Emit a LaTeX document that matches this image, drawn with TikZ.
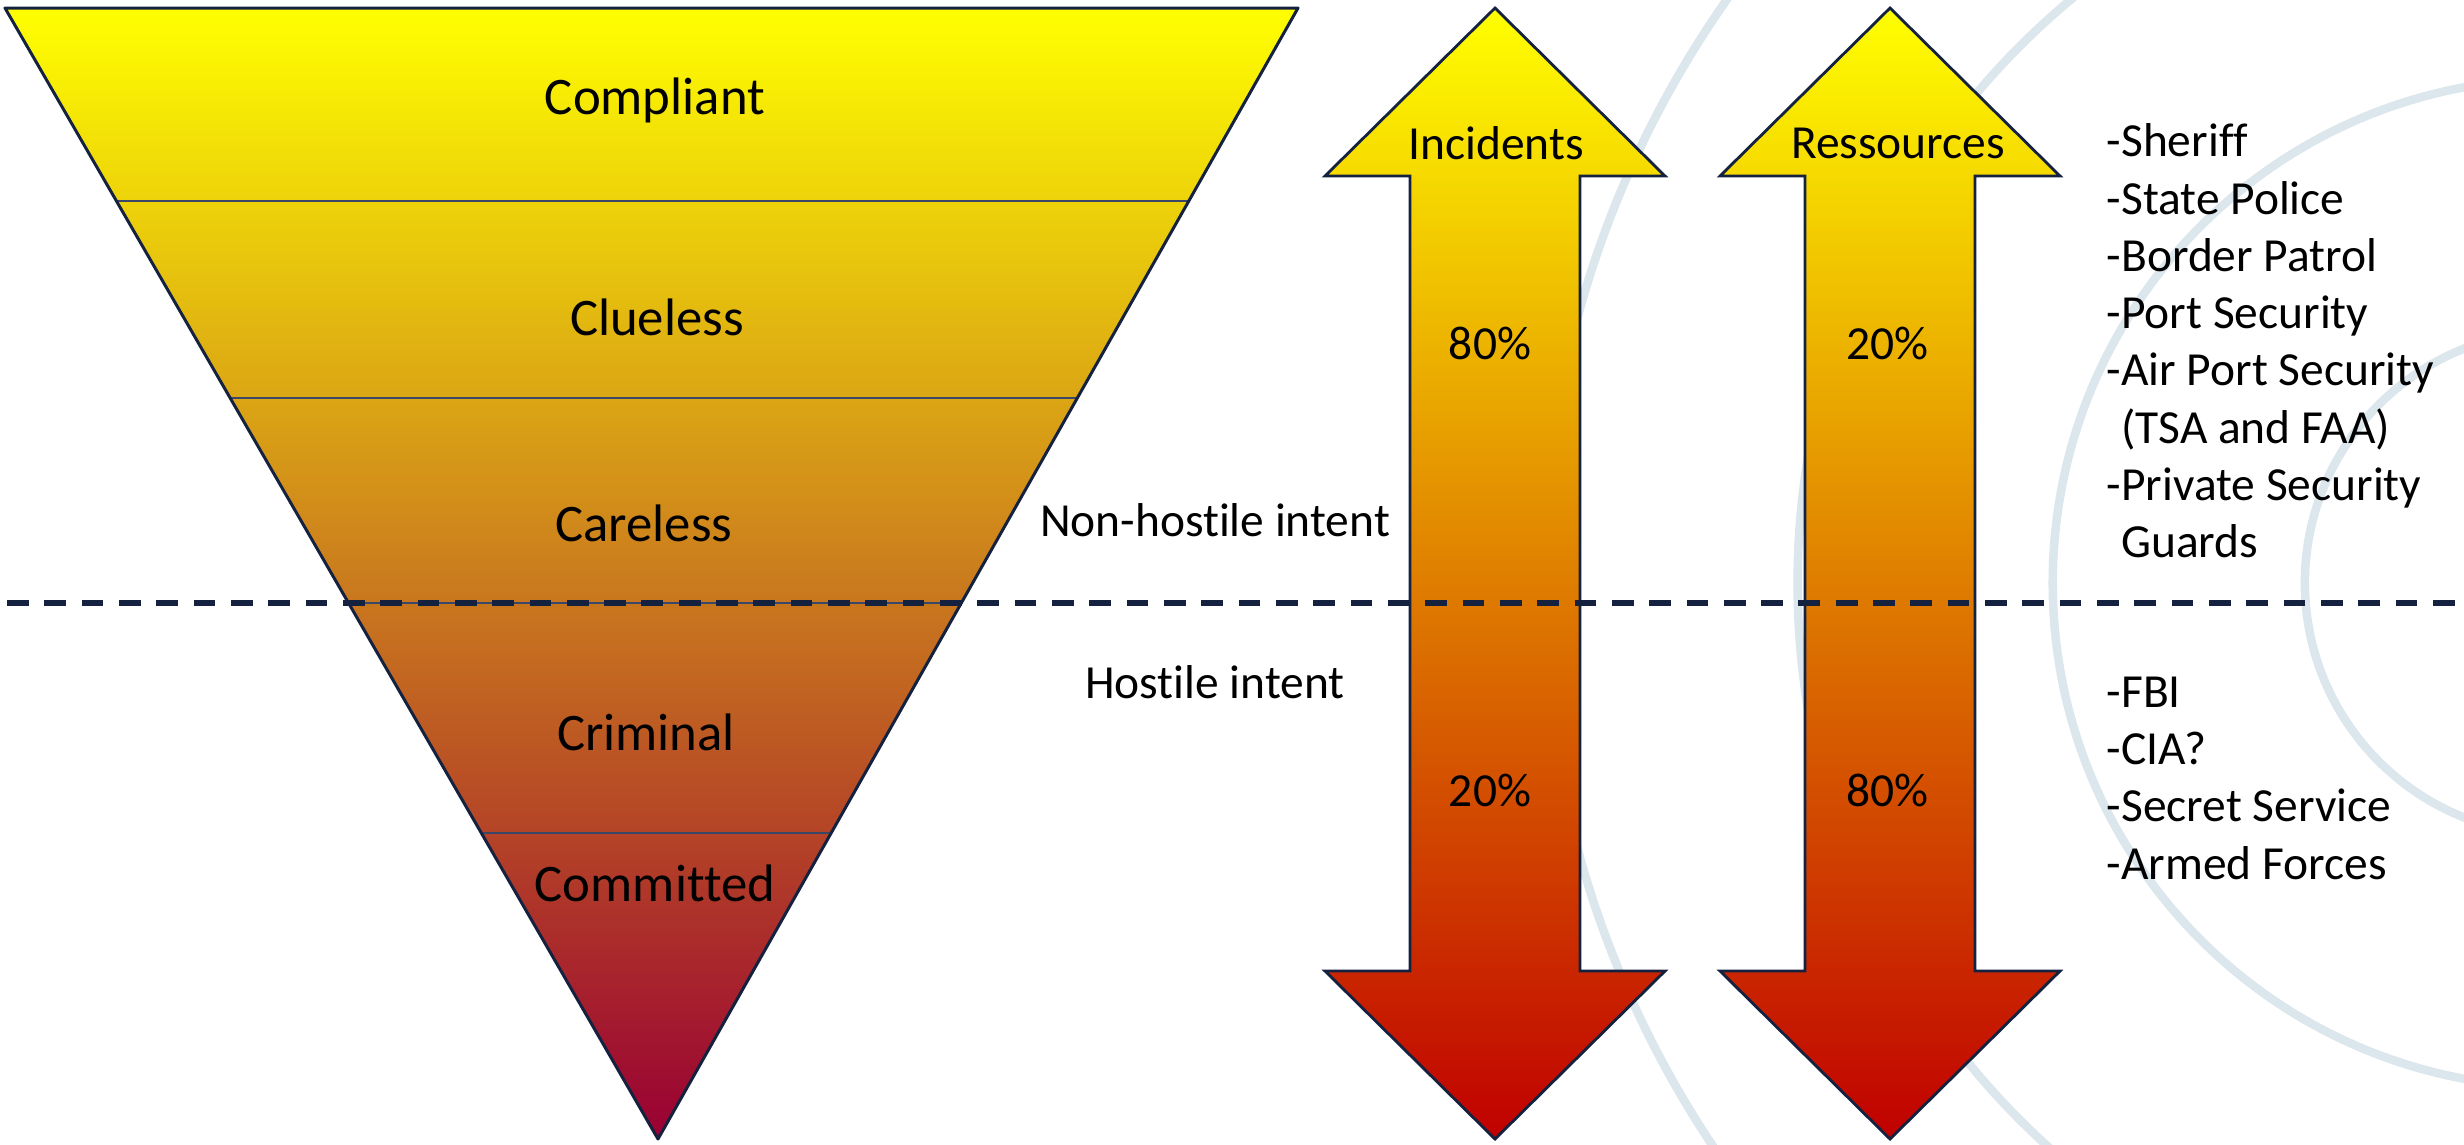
\documentclass[tikz,border=0pt]{standalone}
\usepackage{fontspec}
\setmainfont{Carlito}[Ligatures=CommonOff]
\usepackage{tikz}
\usetikzlibrary{calc}

\definecolor{navy}{HTML}{14213F}
\definecolor{ringblue}{HTML}{DCE6ED}
\definecolor{layerline}{HTML}{3A4766}
\definecolor{amber}{HTML}{CB7D1D}
\definecolor{crimson}{HTML}{990033}
\definecolor{deepred}{HTML}{C00000}

% double headed block arrow, centred on x = #1
\newcommand{\flowarrow}[1]{%
  \draw[blockarrow,shift={(#1,0)}]
    (0,8) -- (170,176) -- (85,176) -- (85,971) -- (170,971) -- (0,1139)
    -- (-170,971) -- (-85,971) -- (-85,176) -- (-170,176) -- cycle;}

\begin{document}
\begin{tikzpicture}[x=0.01cm,y=-0.01cm,
  backring/.style={ringblue,line width=0.085cm},
  funnel/.style={draw=navy,line width=0.85pt,top color=yellow,bottom color=crimson,middle color=amber},
  layer/.style={layerline,line width=0.6pt},
  blockarrow/.style={draw=navy,line width=0.8pt,top color=yellow,bottom color=deepred},
  sep/.style={navy,line width=1.5pt,dash pattern=on 0.217cm off 0.156cm,dash phase=0.303cm},
  big/.style={font=\fontsize{15}{18}\selectfont},
  small/.style={font=\fontsize{13.5}{16.3}\selectfont},
  list/.style={small,align=left,anchor=west,inner sep=0pt}]
  \useasboundingbox (0,0) rectangle (2464,1144);

  % rings in the background
  \coordinate (ctr) at (2557,583);
  \begin{scope}
    \clip (0,0) rectangle (2464,1144);
    \foreach \rad in {10.14,7.59,5.04,2.52}
      \draw[backring] (ctr) circle[radius=\rad cm];
  \end{scope}

  % the funnel
  \coordinate (tl) at (5,8);
  \coordinate (tr) at (1298,8);
  \coordinate (tip) at (658,1139);
  \fill[funnel,draw=none] (tl) -- (tr) -- (tip) -- cycle;
  \foreach \f in {0.1706,0.3448,0.5261,0.7294}
    \draw[layer] ($(tl)!\f!(tip)$) -- ($(tr)!\f!(tip)$);
  \draw[navy,line width=0.85pt,line join=round] (tl) -- (tr) -- (tip) -- cycle;

  \node[big] (compliant) at (655,100) {Compliant};
  \node[big] (clueless) at (657,317) {Clueless};
  \node[big] (careless) at (644,523) {Careless};
  \node[big] (criminal) at (646,732) {Criminal};
  \node[big] (committed) at (655,883) {Committed};

  % arrows
  \flowarrow{1495}
  \flowarrow{1890}
  \node[small] (incidents) at (1496,143) {Incidents};
  \node[small] (ressources) at (1898,143) {Ressources};
  \node[small] (inclow) at (1490,343) {80\%};
  \node[small] (inchigh) at (1490,790) {20\%};
  \node[small] (reslow) at (1887,343) {20\%};
  \node[small] (reshigh) at (1887,790) {80\%};

  \node[small] (nonhostile) at (1215,520) {Non-hostile intent};
  \node[small] (hostile) at (1215,682) {Hostile intent};

  % agencies
  \node[list] (local) at (2106,341) {-Sheriff\\-State Police\\-Border Patrol\\-Port Security\\
    -Air Port Security\\\phantom{-}(TSA and FAA)\\-Private Security\\\phantom{-}Guards};
  \node[list] (federal) at (2106,778) {-FBI\\-CIA?\\-Secret Service\\-Armed Forces};

  % intent boundary
  \coordinate (sepL) at (0,603);
  \coordinate (sepR) at (2464,603);
  \draw[sep] (sepL) -- (sepR);
\end{tikzpicture}
\end{document}
